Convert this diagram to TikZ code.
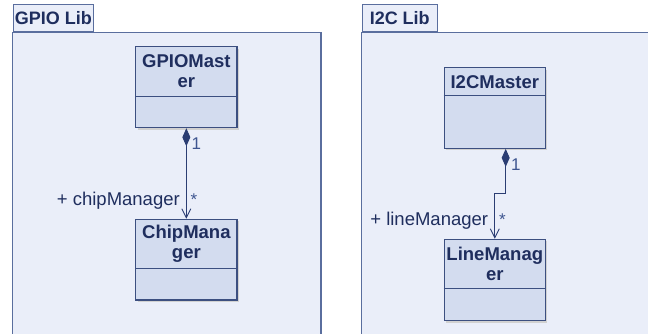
\documentclass[tikz,border=0pt]{standalone}
\usepackage{fontspec}
\setmainfont{Liberation Sans}
\usetikzlibrary{arrows.meta,calc}
\definecolor{pkgfill}{HTML}{EAEEF9}
\definecolor{pkgline}{HTML}{5A6E9E}
\definecolor{clsfill}{HTML}{D3DCEF}
\definecolor{clsline}{HTML}{3C4F80}
\definecolor{txt}{HTML}{1F2E5E}
\definecolor{edge}{HTML}{2B3D73}
\definecolor{multc}{HTML}{3E5590}
\tikzset{
  pkgbody/.style={draw=pkgline,fill=pkgfill,line width=1.1pt},
  pkgtab/.style={draw=pkgline,fill=pkgfill,line width=1.1pt,anchor=south west,inner sep=0pt,
     font=\fontsize{18}{20}\selectfont\bfseries,text=txt},
  cls/.style={draw=clsline,fill=clsfill,line width=1.1pt,minimum width=101.3pt,inner sep=0pt,
     drop/.style={}},
  shadowbox/.style={fill=black!18,draw=none},
  clstitle/.style={font=\fontsize{18.5}{20}\selectfont\bfseries,text=txt,align=center,inner sep=0pt},
  divider/.style={draw=clsline,line width=1pt},
  assoc/.style={draw=edge,line width=1pt,{Diamond[length=18pt,width=8pt,fill=edge]}-{Straight Barb[length=9pt,width=9pt,line width=0.9pt]}},
  rolelbl/.style={font=\fontsize{18.5}{20}\selectfont,text=txt,anchor=base east,inner sep=0pt},
  multlbl/.style={font=\fontsize{17}{20}\selectfont,text=multc,anchor=base west,inner sep=0pt},
}
\begin{document}
\begin{tikzpicture}[x=1pt,y=1pt]
\useasboundingbox (0,0) rectangle (648,334);
\fill[white] (0,0) rectangle (648,334);
\begin{scope}
\clip (0,0) rectangle (648,334);
% GPIO package
\draw[pkgbody] (12.7,-10) rectangle (321,301.7);
\node[pkgtab,minimum width=80pt,minimum height=27.3pt] (gtab) at (12.7,301.7) {GPIO Lib};
% I2C package
\draw[pkgbody] (361.7,-10) rectangle (670,301.7);
\node[pkgtab,minimum width=75pt,minimum height=27.3pt] (itab) at (361.7,301.7) {I2C Lib};
\end{scope}

% GPIOMaster
\fill[shadowbox] (137.7,204.3) rectangle (239,285.3);
\node[cls,minimum height=81pt] (gm) at (186.35,246.8) {};
\draw[divider] ([yshift=-50pt]gm.north west) -- ([yshift=-50pt]gm.north east);
\node[clstitle] (gmt) at ([yshift=-25pt]gm.north) {GPIOMast\\er};

% ChipManager
\fill[shadowbox] (137.7,32) rectangle (239,112.7);
\node[cls,minimum height=80.7pt] (cm) at (186.35,74.35) {};
\draw[divider] ([yshift=-50pt]cm.north west) -- ([yshift=-50pt]cm.north east);
\node[clstitle] (cmt) at ([yshift=-25pt]cm.north) {ChipMana\\ger};

% I2CMaster
\fill[shadowbox] (446.3,183.7) rectangle (547.3,264.3);
\node[cls,minimum height=80.6pt] (im) at (494.8,226) {};
\draw[divider] ([yshift=-28.3pt]im.north west) -- ([yshift=-28.3pt]im.north east);
\node[clstitle] (imt) at ([yshift=-14.5pt]im.north) {I2CMaster};

% LineManager
\fill[shadowbox] (446.3,11.3) rectangle (547.3,92.7);
\node[cls,minimum height=81.4pt] (lm) at (494.8,54) {};
\draw[divider] ([yshift=-50pt]lm.north west) -- ([yshift=-50pt]lm.north east);
\node[clstitle] (lmt) at ([yshift=-25pt]lm.north) {LineManag\\er};

% associations
\draw[assoc] (gm.south) -- (cm.north);
\node[multlbl] (g1) at (191.5,184) {1};
\node[rolelbl] (grole) at (180,128.3) {+ chipManager};
\node[multlbl] (gstar) at (190.5,128.3) {*};

\coordinate (ibend) at ($(lm.north)+(0,45.3)$);
\draw[assoc] ([xshift=10.9pt]im.south) |- (ibend) -- (lm.north);
\node[multlbl] (i1) at (511,163.3) {1};
\node[rolelbl] (irole) at (488.3,108.3) {+ lineManager};
\node[multlbl] (istar) at (499,108.3) {*};
\end{tikzpicture}
\end{document}
